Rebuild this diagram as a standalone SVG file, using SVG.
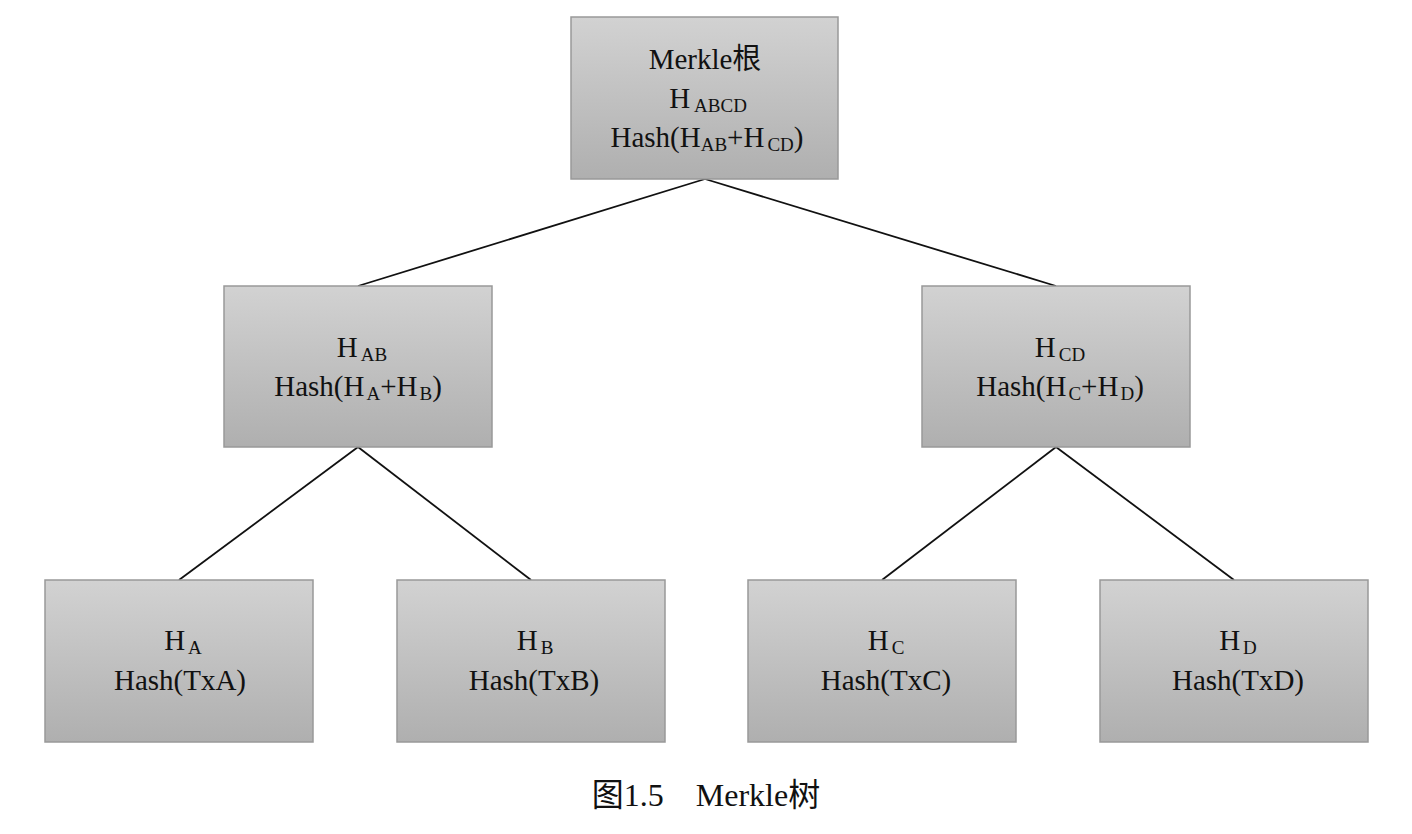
<svg xmlns="http://www.w3.org/2000/svg" width="1412" height="834" viewBox="0 0 1412 834">
<defs>
<linearGradient id="g" x1="0" y1="0" x2="0" y2="1">
<stop offset="0" stop-color="#d2d2d2"/>
<stop offset="1" stop-color="#afafaf"/>
</linearGradient>
</defs>
<style>
.box{fill:url(#g);stroke:#999999;stroke-width:1.5}
.t{font-family:"Liberation Serif","Noto Sans CJK SC",serif;font-size:29px;fill:#111;text-anchor:middle}
.s{font-size:19px}
.c{stroke:#111;stroke-width:1.8;fill:none}
.cap{font-family:"Liberation Serif","Noto Sans CJK SC",serif;font-size:32px;fill:#111;text-anchor:middle}
</style>
<rect width="1412" height="834" fill="#ffffff"/>
<g id="connectors">
<line class="c" x1="705" y1="179" x2="358" y2="286"/>
<line class="c" x1="705" y1="179" x2="1056" y2="286"/>
<line class="c" x1="358" y1="447" x2="179" y2="580"/>
<line class="c" x1="358" y1="447" x2="531" y2="580"/>
<line class="c" x1="1056" y1="447" x2="882" y2="580"/>
<line class="c" x1="1056" y1="447" x2="1234" y2="580"/>
</g>
<g id="root">
<rect class="box" x="571" y="17" width="267" height="162"/>
<text class="t" x="705" y="69">Merkle根</text>
<text class="t" x="708" y="108">H<tspan class="s" dx="4" dy="4">ABCD</tspan></text>
<text class="t" x="707" y="147">Hash(H<tspan class="s" dy="4">AB</tspan><tspan dy="-4">+H</tspan><tspan class="s" dx="3" dy="4">CD</tspan><tspan dy="-4">)</tspan></text>
</g>
<g id="hab">
<rect class="box" x="224" y="286" width="268" height="161"/>
<text class="t" x="362" y="357">H<tspan class="s" dx="3" dy="4">AB</tspan></text>
<text class="t" x="358" y="396">Hash(H<tspan class="s" dx="2" dy="4">A</tspan><tspan dy="-4">+H</tspan><tspan class="s" dx="2" dy="4">B</tspan><tspan dy="-4">)</tspan></text>
</g>
<g id="hcd">
<rect class="box" x="922" y="286" width="268" height="161"/>
<text class="t" x="1060" y="357">H<tspan class="s" dx="3" dy="4">CD</tspan></text>
<text class="t" x="1060" y="396">Hash(H<tspan class="s" dx="2" dy="4">C</tspan><tspan dy="-4">+H</tspan><tspan class="s" dx="2" dy="4">D</tspan><tspan dy="-4">)</tspan></text>
</g>
<g id="ha">
<rect class="box" x="45" y="580" width="268" height="162"/>
<text class="t" x="183" y="650">H<tspan class="s" dx="3" dy="4">A</tspan></text>
<text class="t" x="180" y="690">Hash(TxA)</text>
</g>
<g id="hb">
<rect class="box" x="397" y="580" width="268" height="162"/>
<text class="t" x="535" y="650">H<tspan class="s" dx="3" dy="4">B</tspan></text>
<text class="t" x="534" y="690">Hash(TxB)</text>
</g>
<g id="hc">
<rect class="box" x="748" y="580" width="268" height="162"/>
<text class="t" x="886" y="650">H<tspan class="s" dx="3" dy="4">C</tspan></text>
<text class="t" x="886" y="690">Hash(TxC)</text>
</g>
<g id="hd">
<rect class="box" x="1100" y="580" width="268" height="162"/>
<text class="t" x="1238" y="650">H<tspan class="s" dx="3" dy="4">D</tspan></text>
<text class="t" x="1238" y="690">Hash(TxD)</text>
</g>
<text class="cap" x="706" y="806" xml:space="preserve">图1.5    Merkle树</text>
</svg>
